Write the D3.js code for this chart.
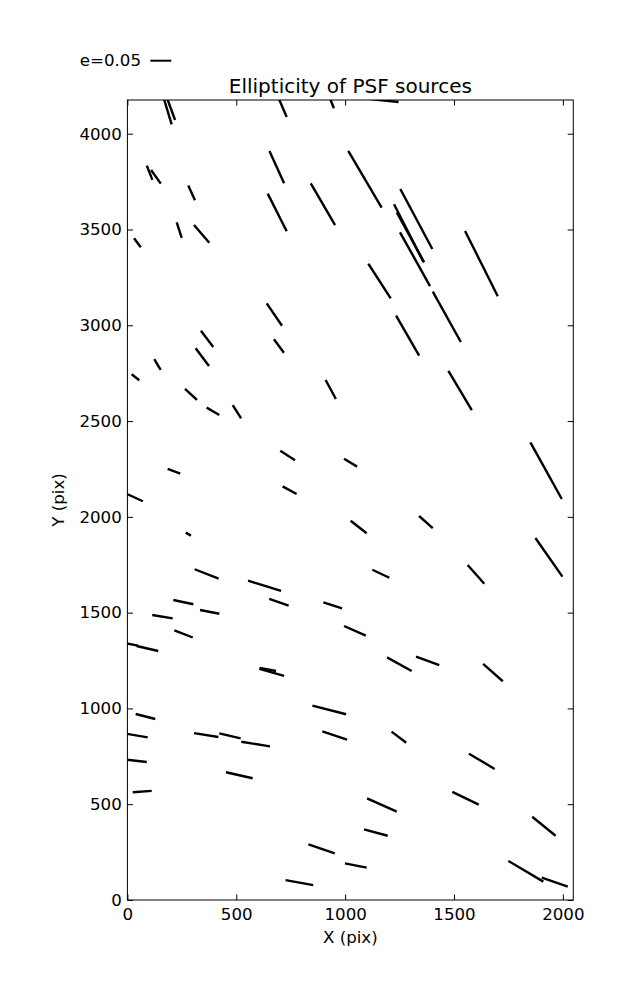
<!DOCTYPE html>
<html>
<head>
<meta charset="utf-8">
<script src="https://cdn.jsdelivr.net/npm/d3@7"></script>
<style>
  html, body { margin: 0; padding: 0; background: #fff; }
  svg { display: block; }
  text { font-family: "DejaVu Sans", sans-serif; fill: #000; }
</style>
</head>
<body>
<svg id="chart" width="637" height="1000"></svg>
<script>
// Source positions (pix) and ellipticity vector components (e cos, e sin)
const xs = [175,192,706,937,1180,102,131,295,686,688,898,46,238,341,675,366,696,344,138,
  1091,1327,1292,1300,1321,1626,1158,1467,1287,37,292,393,503,934,736,1025,214,745,30,280,
  364,630,696,943,257,378,161,258,1045,1528,1923,1062,1371,1936,1164,1601,12,92,663,645,
  927,83,952,41,362,471,589,39,514,68,892,1049,790,1249,1379,1679,1247,1628,1169,1553,1913,1141,1830,1963];
const ys = [4155,4155,4155,4166,4173,3796,3775,3691,3826,3589,3632,3431,3497,3477,3056,2929,2892,2834,2795,
  3762,3555,3482,3459,3345,3322,3231,3044,2946,2729,2639,2551,2549,2665,2320,2283,2238,2139,2103,1910,
  1702,1640,1554,1538,1555,1504,1479,1389,1405,2660,2241,1947,1973,1789,1703,1700,1336,1313,1188,1203,
  992,958,859,859,861,857,814,727,651,566,267,180,91,1231,1248,1187,850,724,496,531,385,352,150,93];
const us = [0.0293,0.0279,0.0267,0.0119,0.0679,0.0133,0.0231,0.0160,0.0350,0.0452,0.0579,0.0160,0.0119,0.0364,0.0364,0.0293,0.0238,0.0317,0.0152,
  0.0795,0.0762,0.0698,0.0650,0.0714,0.0779,0.0533,0.0667,0.0548,0.0181,0.0286,0.0300,0.0198,0.0245,0.0350,0.0310,0.0300,0.0333,0.0429,0.0126,
  0.0571,0.0786,0.0462,0.0445,0.0476,0.0460,0.0486,0.0438,0.0517,0.0557,0.0748,0.0381,0.0326,0.0643,0.0405,0.0395,0.0381,0.0514,0.0588,0.0393,
  0.0802,0.0467,0.0588,0.0540,0.0579,0.0510,0.0683,0.0517,0.0636,0.0452,0.0629,0.0517,0.0657,0.0588,0.0555,0.0469,0.0348,0.0612,0.0707,0.0629,0.0557,0.0564,0.0833,0.0619];
const vs = [-0.0967,-0.0762,-0.0619,-0.0300,-0.0071,-0.0340,-0.0326,-0.0348,-0.0769,-0.0895,-0.0993,-0.0214,-0.0367,-0.0421,-0.0533,-0.0388,-0.0319,-0.0421,-0.0255,
  -0.1350,-0.1429,-0.1367,-0.1190,-0.1279,-0.1555,-0.0824,-0.1198,-0.0952,-0.0143,-0.0262,-0.0174,-0.0317,-0.0452,-0.0229,-0.0190,-0.0112,-0.0183,-0.0195,-0.0071,
  -0.0224,-0.0245,-0.0160,-0.0143,-0.0102,-0.0088,-0.0079,-0.0171,-0.0231,-0.0936,-0.1350,-0.0300,-0.0286,-0.0921,-0.0190,-0.0445,-0.0076,-0.0119,-0.0167,-0.0071,
  -0.0205,-0.0119,-0.0195,-0.0090,-0.0095,-0.0119,-0.0110,-0.0060,-0.0143,0.0031,-0.0214,-0.0100,-0.0119,-0.0326,-0.0205,-0.0412,-0.0262,-0.0364,-0.0319,-0.0302,-0.0452,-0.0152,-0.0493,-0.0214];
const xTicks = [0, 500, 1000, 1500, 2000];
const yTicks = [0, 500, 1000, 1500, 2000, 2500, 3000, 3500, 4000];
const keyE = 0.05;
const titleText = "Ellipticity of PSF sources";

const W = 637, H = 1000;
const L = 127.4, R = 573.3, T = 100, B = 900;
const svg = d3.select("#chart");
svg.append("rect").attr("width", W).attr("height", H).attr("fill", "#fff");

const x = d3.scaleLinear().domain([0, 2048]).range([L, R]);
const y = d3.scaleLinear().domain([0, 4176]).range([B, T]);
const k = 420; // pixels per unit ellipticity

svg.append("clipPath").attr("id", "clip")
  .append("rect").attr("x", L).attr("y", T).attr("width", R - L).attr("height", B - T);

const data = xs.map((d, i) => ({x: d, y: ys[i], u: us[i], v: vs[i]}));
svg.append("g").attr("clip-path", "url(#clip)")
  .selectAll("line").data(data).join("line")
  .attr("x1", d => x(d.x) - d.u * k / 2)
  .attr("y1", d => y(d.y) + d.v * k / 2)
  .attr("x2", d => x(d.x) + d.u * k / 2)
  .attr("y2", d => y(d.y) - d.v * k / 2)
  .attr("stroke", "#000").attr("stroke-width", 2.4).attr("stroke-linecap", "butt");

const ts = 5.6;
function style(g) {
  g.select(".domain").remove();
  g.selectAll(".tick line").attr("stroke", "#000").attr("stroke-width", 1);
  g.selectAll(".tick text").attr("font-size", "16.67px").attr("font-family", "DejaVu Sans").attr("fill", "#000");
}
svg.append("g").attr("transform", `translate(0,${B})`)
  .call(d3.axisBottom(x).tickValues(xTicks).tickSize(-ts).tickPadding(8.2).tickFormat(d3.format("d")))
  .call(style);
svg.append("g").attr("transform", `translate(0,${T})`)
  .call(d3.axisTop(x).tickValues(xTicks).tickSize(-ts).tickFormat(""))
  .call(style);
svg.append("g").attr("transform", `translate(${L},0)`)
  .call(d3.axisLeft(y).tickValues(yTicks).tickSize(-ts).tickPadding(5.6).tickFormat(d3.format("d")))
  .call(style);
svg.append("g").attr("transform", `translate(${R},0)`)
  .call(d3.axisRight(y).tickValues(yTicks).tickSize(-ts).tickFormat(""))
  .call(style);

svg.append("rect").attr("x", L).attr("y", T).attr("width", R - L).attr("height", B - T)
  .attr("fill", "none").attr("stroke", "#000").attr("stroke-width", 1);

svg.append("text").attr("x", (L + R) / 2).attr("y", 93.3).attr("text-anchor", "middle")
  .attr("font-size", "20px").text(titleText);
svg.append("text").attr("x", (L + R) / 2).attr("y", 943).attr("text-anchor", "middle")
  .attr("font-size", "16.67px").text("X (pix)");
svg.append("text").attr("transform", `translate(63.5,${(T + B) / 2}) rotate(-90)`)
  .attr("text-anchor", "middle").attr("font-size", "16.67px").text("Y (pix)");

// key
const keyCx = 160.8, keyCy = 60.7;
svg.append("line")
  .attr("x1", keyCx - keyE * k / 2).attr("x2", keyCx + keyE * k / 2)
  .attr("y1", keyCy).attr("y2", keyCy)
  .attr("stroke", "#000").attr("stroke-width", 2);
svg.append("text").attr("x", 141).attr("y", 66).attr("text-anchor", "end")
  .attr("font-size", "16.67px").text("e=" + keyE.toFixed(2));
</script>
</body>
</html>
